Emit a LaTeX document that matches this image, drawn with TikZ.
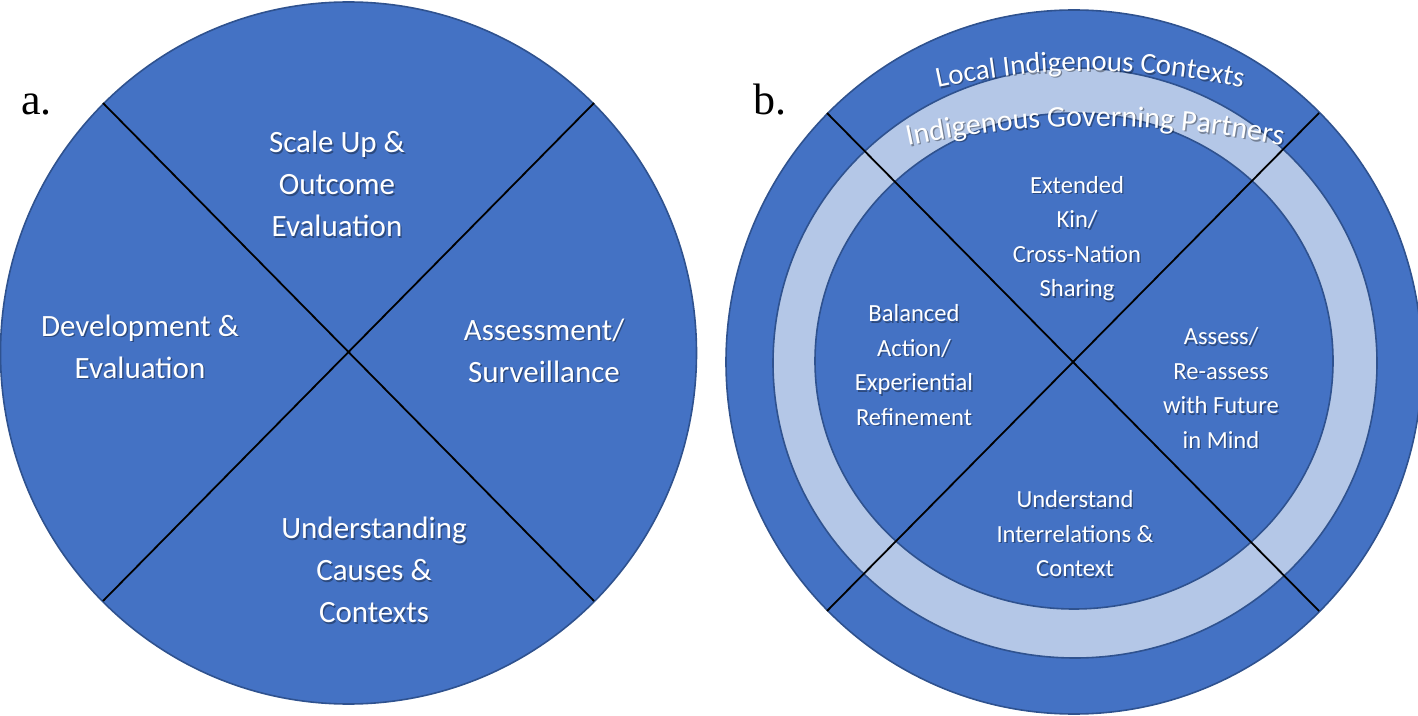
\documentclass[tikz,border=0pt]{standalone}
\usepackage{fontspec}
\setmainfont{Liberation Serif}
\newfontfamily\carl{Carlito}
\usetikzlibrary{decorations.text}
\definecolor{wblue}{HTML}{4472C4}
\definecolor{wedge}{HTML}{2F528F}
\definecolor{wlight}{HTML}{B4C7E7}
\begin{document}
\begin{tikzpicture}[x=0.5pt,y=-0.5pt,
  disc/.style={fill=wblue, draw=wedge, line width=0.8pt},
  ringfill/.style={fill=wlight, draw=wedge, line width=0.8pt},
  divider/.style={draw=black, line width=0.9pt},
  bigtxt/.style={text=white, font=\carl\fontsize{15.5}{21}\selectfont, align=center, inner sep=0pt},
  smalltxt/.style={text=white, font=\carl\fontsize{12.3}{17.25}\selectfont, align=center, inner sep=0pt},
  shadowtxt/.style={text=black, text opacity=0.35, shift={(1.4,1.4)}},
  panel/.style={font=\fontsize{22}{26}\selectfont, anchor=base west, inner sep=0pt}
]
\useasboundingbox (0,0) rectangle (1418,716);

% ---------- panel a ----------
\coordinate (ca) at (348.5,353);
\path[disc] (ca) ellipse [x radius=348, y radius=351];
\coordinate (a1) at (103,103);
\coordinate (a2) at (594,103);
\coordinate (a3) at (103,601);
\coordinate (a4) at (594,601);
\draw[divider] (a1) -- (a4);
\draw[divider] (a2) -- (a3);

\node[bigtxt, shadowtxt] at (337,184) {Scale Up \&\\Outcome\\Evaluation};
\node[bigtxt] (su) at (337,184) {Scale Up \&\\Outcome\\Evaluation};
\node[bigtxt, shadowtxt] at (140,346.5) {Development \&\\Evaluation};
\node[bigtxt] (de) at (140,346.5) {Development \&\\Evaluation};
\node[bigtxt, shadowtxt] at (544,350.5) {Assessment/\\Surveillance};
\node[bigtxt] (as) at (544,350.5) {Assessment/\\Surveillance};
\node[bigtxt, shadowtxt] at (374,570) {Understanding\\Causes \&\\Contexts};
\node[bigtxt] (uc) at (374,570) {Understanding\\Causes \&\\Contexts};

\node[panel] (la) at (21,115) {a.};

% ---------- panel b ----------
\coordinate (cb) at (1074,362);
\coordinate (cr) at (1075,363);
\coordinate (ci) at (1074,361);
\path[disc] (cb) ellipse [x radius=348, y radius=352];
\path[ringfill] (cr) ellipse [x radius=302, y radius=295];
\path[disc] (ci) ellipse [x radius=259, y radius=248];
\coordinate (b1) at (827,113);
\coordinate (b2) at (1319,113);
\coordinate (b3) at (827,611);
\coordinate (b4) at (1319,611);
\draw[divider] (b1) -- (b4);
\draw[divider] (b2) -- (b3);

% arc texts
\begin{scope}[opacity=0.35, shift={(1.4,1.4)}]
\path[decorate, decoration={text along path, text align=center,
  text={|\carl\fontsize{14.5}{14.5}\selectfont\color{black}|Local Indigenous Contexts}}]
  (850.6,113.2) arc[start angle=250, end angle=290, radius=700];
\path[decorate, decoration={text along path, text align=center,
  text={|\carl\fontsize{15}{15}\selectfont\color{black}|Indigenous Governing Partners}}]
  (862.1,156.7) arc[start angle=255, end angle=285, radius=900];
\end{scope}
\path[decorate, decoration={text along path, text align=center,
  text={|\carl\fontsize{14.5}{14.5}\selectfont\color{white}|Local Indigenous Contexts}}]
  (850.6,113.2) arc[start angle=250, end angle=290, radius=700];
\path[decorate, decoration={text along path, text align=center,
  text={|\carl\fontsize{15}{15}\selectfont\color{white}|Indigenous Governing Partners}}]
  (862.1,156.7) arc[start angle=255, end angle=285, radius=900];

\node[smalltxt, shadowtxt] at (1077,238.5) {Extended\\Kin/\\Cross-Nation\\Sharing};
\node[smalltxt] (ek) at (1077,238.5) {Extended\\Kin/\\Cross-Nation\\Sharing};
\node[smalltxt, shadowtxt] at (914,365) {Balanced\\Action/\\Experiential\\Refinement};
\node[smalltxt] (ba) at (914,365) {Balanced\\Action/\\Experiential\\Refinement};
\node[smalltxt, shadowtxt] at (1221,388) {Assess/\\Re-assess\\with Future\\in Mind};
\node[smalltxt] (ar) at (1221,388) {Assess/\\Re-assess\\with Future\\in Mind};
\node[smalltxt, shadowtxt] at (1075,533.7) {Understand\\Interrelations \&\\Context};
\node[smalltxt] (ui) at (1075,533.7) {Understand\\Interrelations \&\\Context};

\node[panel] (lb) at (753,115) {b.};
\end{tikzpicture}
\end{document}
